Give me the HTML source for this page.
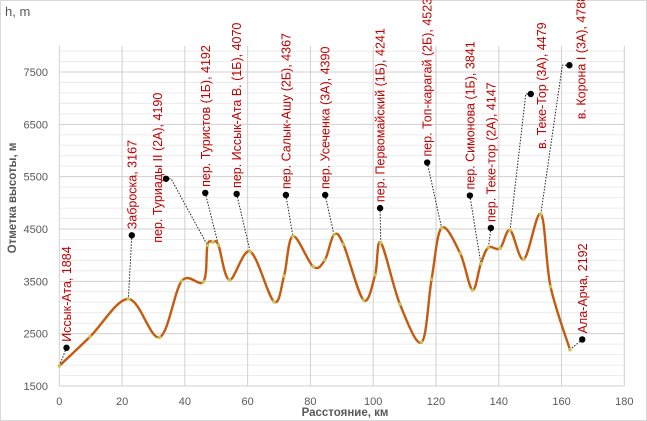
<!DOCTYPE html>
<html><head><meta charset="utf-8"><style>
html,body{margin:0;padding:0;background:#fff}
svg{display:block;font-family:"Liberation Sans",sans-serif}
</style></head><body>
<svg width="647" height="421" viewBox="0 0 647 421">
<rect x="0.5" y="0.5" width="646" height="420" fill="#fff" stroke="#d9d9d9"/>
<text x="5" y="16" font-size="13" fill="#595959">h, m</text>
<g id="grid"></g>
<g id="ticks"></g>
<g id="leaders"></g>
<path id="curve" fill="none" stroke="#c55a11" stroke-width="2.4"/>
<g id="marks"></g>
<g id="labels"></g>
<text transform="translate(16,198) rotate(-90)" text-anchor="middle" font-size="11.5" font-weight="bold" fill="#595959">Отметка  высоты,  м</text>
<text x="345" y="416" text-anchor="middle" font-size="11.5" font-weight="bold" fill="#595959">Расстояние,  км</text>
</svg>
<script>
const distKm=[0,9.8,22,31.9,39,45.9,47.2,49,50.7,54.2,60.8,68.4,71.6,74.4,80.9,84.6,87.5,90.5,96.9,100.6,102.4,108.5,115.4,118.6,121.8,127.7,131.6,134.3,136.7,140.4,143.6,148,153.4,156.5,162.7];
const elevM=[1884,2442,3163,2430,3506,3493,4190,4250,4192,3526,4070,3111,3602,4367,3780,3908,4390,4208,3143,3621,4241,3067,2335,3539,4523,4036,3335,3841,4147,4131,4479,3921,4788,3398,2192];
const xTicks=[0,20,40,60,80,100,120,140,160,180];
const yTicks=[1500,2500,3500,4500,5500,6500,7500];
const labelText=["Иссык-Ата, 1884","Заброска, 3167","пер. Туриады II (2А), 4190","пер. Туристов (1Б), 4192","пер. Иссык-Ата В. (1Б), 4070","пер. Салык-Ашу (2Б), 4367","пер. Усеченка (3А), 4390","пер. Первомайский (1Б), 4241","пер. Топ-карагай (2Б), 4523","пер. Симонова (1Б), 3841","пер. Теке-тор (2А), 4147","в. Теке-Тор (3А), 4479","в. Корона I (3А), 4788","Ала-Арча, 2192"];
const labelPointIdx=[0,2,6,8,10,13,16,20,24,27,28,30,32,34];
const labelDotKm=[2.3,23.1,34,46.5,56.5,72.2,84.7,102.2,117.2,130.8,137.5,150.2,162.5,166.6];
const labelDotM=[2230,4380,5460,5190,5170,5150,5150,4900,5770,5140,4520,7080,7630,2390];
const NS="http://www.w3.org/2000/svg";
const X=k=>59.3+k*3.139, Y=m=>386-(m-1500)*0.05233;
function mk(t,a,p){const e=document.createElementNS(NS,t);for(const k in a)e.setAttribute(k,a[k]);p.appendChild(e);return e;}
const grid=document.getElementById('grid'),ticks=document.getElementById('ticks');
for(let m=1500;m<=7900;m+=200){const l=mk('line',{x1:59,x2:624,y1:Y(m),y2:Y(m),stroke:(m-1500)%1000==0?'#d0d0d0':'#ececec','stroke-width':1},grid);

}
xTicks.forEach(k=>{const l=mk('line',{x1:X(k),x2:X(k),y1:46,y2:386,stroke:'#d0d0d0','stroke-width':1},grid);


const t=mk('text',{x:X(k),y:405,'text-anchor':'middle','font-size':11,fill:'#595959'},ticks);t.textContent=k;

});
yTicks.forEach(m=>{const t=mk('text',{x:48,y:Y(m)+4,'text-anchor':'end','font-size':11,fill:'#595959'},ticks);t.textContent=m;

});
const P=distKm.map((k,i)=>[X(k),Y(elevM[i])]);
let d='M'+P[0][0]+','+P[0][1];
for(let i=0;i<P.length-1;i++){const p0=P[Math.max(0,i-1)],p1=P[i],p2=P[i+1],p3=P[Math.min(P.length-1,i+2)];const s=6;
d+=' C'+(p1[0]+(p2[0]-p0[0])/s)+','+(p1[1]+(p2[1]-p0[1])/s)+' '+(p2[0]-(p3[0]-p1[0])/s)+','+(p2[1]-(p3[1]-p1[1])/s)+' '+p2[0]+','+p2[1];}
document.getElementById('curve').setAttribute('d',d);
const marks=document.getElementById('marks');
P.forEach(p=>{const c=mk('circle',{cx:p[0],cy:p[1],r:1.8,fill:'#c9c35a'},marks);

});
const leaders=document.getElementById('leaders'),labels=document.getElementById('labels');
labelText.forEach((s,i)=>{const dx=X(labelDotKm[i]),dy=Y(labelDotM[i]);const p=P[labelPointIdx[i]];
let pts=dx+','+dy+' ';
if(i==2)pts+=(dx+5)+','+dy+' ';
if(i==11)pts+=(dx-5)+','+dy+' ';
if(i==12)pts+=(dx-7)+','+dy+' ';
pts+=p[0]+','+p[1];
const ln=mk('polyline',{points:pts,fill:'none',stroke:'#222','stroke-width':1,'stroke-dasharray':'1.5,1.5'},leaders);


const c=mk('circle',{cx:dx,cy:dy,r:3.2,fill:'#000'},leaders);


let tx=dx+4.5,ty=dy-6;
if(i==2){tx=dx-4;ty=dy+64;} if(i==11){tx=dx+15;ty=dy+55;} if(i==12){tx=dx+16;ty=dy+54;}
const t=mk('text',{transform:'translate('+tx+','+ty+') rotate(-90)','font-size':12.5,fill:'#c00000'},labels);t.textContent=s;

});
</script>
</body></html>
